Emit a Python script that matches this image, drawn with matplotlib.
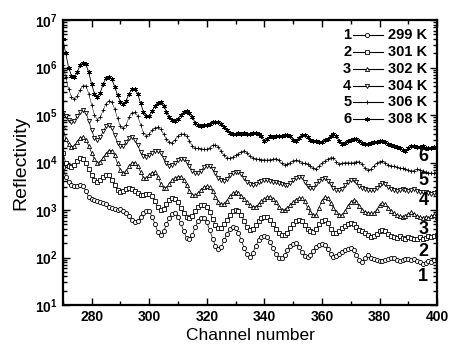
import numpy as np
import matplotlib
matplotlib.use("Agg")
from matplotlib import pyplot as plt
from matplotlib.ticker import LogLocator, MultipleLocator, NullFormatter

plt.rcParams['font.family'] = ['Liberation Sans', 'DejaVu Sans']

channels = np.arange(270, 401)
temps = ["299 K", "301 K", "302 K", "304 K", "306 K", "308 K"]

# log10(reflectivity), one value per channel 270..400
log_r1 = [3.90, 3.70, 3.58, 3.53, 3.50, 3.50, 3.52, 3.50, 3.40, 3.28,
          3.24, 3.22, 3.19, 3.17, 3.15, 3.12, 3.07, 3.04, 3.02, 3.01,
          3.02, 2.99, 2.94, 2.88, 2.80, 2.75, 2.76, 2.85, 2.94, 2.99,
          2.97, 2.86, 2.70, 2.54, 2.48, 2.55, 2.70, 2.83, 2.92, 2.93,
          2.86, 2.72, 2.55, 2.41, 2.38, 2.48, 2.64, 2.77, 2.84, 2.83,
          2.74, 2.58, 2.40, 2.24, 2.18, 2.22, 2.36, 2.50, 2.60, 2.65,
          2.63, 2.52, 2.36, 2.20, 2.07, 2.02, 2.10, 2.24, 2.36, 2.44,
          2.46, 2.43, 2.33, 2.20, 2.08, 2.00, 1.98, 2.05, 2.15, 2.24,
          2.29, 2.30, 2.22, 2.12, 2.04, 2.02, 2.06, 2.14, 2.22, 2.27,
          2.29, 2.27, 2.18, 2.08, 2.02, 2.03, 2.08, 2.12, 2.15, 2.18,
          2.19, 2.16, 2.06, 1.95, 1.90, 1.98, 2.05, 2.00, 1.96, 1.94,
          1.93, 1.92, 1.94, 1.97, 2.00, 1.99, 1.95, 1.93, 1.94, 1.97,
          1.96, 1.94, 1.97, 1.93, 1.90, 1.86, 1.88, 1.92, 1.90, 1.94,
          1.97]
log_r2 = [4.20, 4.00, 3.93, 3.91, 3.95, 4.04, 4.09, 4.07, 3.98, 3.86,
          3.74, 3.64, 3.60, 3.63, 3.70, 3.74, 3.73, 3.64, 3.52, 3.42,
          3.39, 3.41, 3.44, 3.46, 3.45, 3.40, 3.35, 3.32, 3.32, 3.33,
          3.33, 3.30, 3.18, 3.06, 3.00, 3.02, 3.12, 3.21, 3.25, 3.24,
          3.16, 3.04, 2.93, 2.86, 2.83, 2.88, 2.98, 3.06, 3.10, 3.11,
          3.06, 2.95, 2.81, 2.68, 2.62, 2.62, 2.70, 2.80, 2.90, 2.97,
          3.00, 2.99, 2.90, 2.77, 2.64, 2.58, 2.60, 2.68, 2.77, 2.83,
          2.86, 2.86, 2.80, 2.70, 2.60, 2.52, 2.48, 2.47, 2.52, 2.62,
          2.71, 2.77, 2.79, 2.77, 2.69, 2.60, 2.55, 2.54, 2.60, 2.70,
          2.77, 2.79, 2.72, 2.60, 2.52, 2.51, 2.56, 2.62, 2.67, 2.70,
          2.72, 2.71, 2.65, 2.58, 2.55, 2.52, 2.47, 2.44, 2.45, 2.50,
          2.56, 2.58, 2.55, 2.50, 2.46, 2.44, 2.42, 2.45, 2.42, 2.40,
          2.43, 2.41, 2.38, 2.40, 2.43, 2.40, 2.42, 2.45, 2.43, 2.46,
          2.48]
log_r3 = [4.75, 4.50, 4.38, 4.33, 4.35, 4.44, 4.52, 4.54, 4.48, 4.35,
          4.20, 4.07, 4.00, 4.02, 4.10, 4.19, 4.25, 4.25, 4.15, 3.98,
          3.84, 3.78, 3.82, 3.92, 3.99, 4.00, 3.93, 3.80, 3.68, 3.67,
          3.73, 3.79, 3.80, 3.70, 3.55, 3.46, 3.47, 3.55, 3.63, 3.68,
          3.70, 3.70, 3.64, 3.52, 3.40, 3.32, 3.31, 3.36, 3.43, 3.48,
          3.50, 3.48, 3.40, 3.28, 3.17, 3.12, 3.13, 3.20, 3.29, 3.35,
          3.38, 3.36, 3.30, 3.24, 3.16, 3.10, 3.07, 3.07, 3.12, 3.19,
          3.24, 3.27, 3.28, 3.24, 3.16, 3.07, 3.01, 3.00, 3.04, 3.11,
          3.17, 3.22, 3.25, 3.25, 3.18, 3.06, 2.95, 2.89, 2.90, 3.05,
          3.20, 3.28, 3.25, 3.15, 3.05, 2.96, 2.90, 2.89, 2.97, 3.08,
          3.17, 3.21, 3.17, 3.08, 3.00, 2.96, 2.94, 2.93, 2.93, 3.00,
          3.10, 3.14, 3.12, 3.05, 2.98, 2.93, 2.90, 2.87, 2.86, 2.88,
          2.92, 2.95, 2.92, 2.88, 2.85, 2.84, 2.86, 2.84, 2.87, 2.90,
          2.86]
log_r4 = [5.05, 4.98, 4.90, 4.86, 4.88, 4.97, 5.07, 5.11, 5.05, 4.88,
          4.68, 4.52, 4.47, 4.53, 4.66, 4.76, 4.79, 4.72, 4.58, 4.42,
          4.34, 4.35, 4.44, 4.52, 4.54, 4.48, 4.36, 4.23, 4.14, 4.12,
          4.15, 4.20, 4.24, 4.25, 4.20, 4.10, 3.99, 3.93, 3.94, 3.99,
          4.05, 4.08, 4.08, 4.02, 3.92, 3.83, 3.78, 3.78, 3.83, 3.90,
          3.93, 3.93, 3.87, 3.78, 3.68, 3.63, 3.62, 3.66, 3.73, 3.78,
          3.80, 3.80, 3.76, 3.68, 3.60, 3.55, 3.53, 3.54, 3.58, 3.62,
          3.63, 3.63, 3.62, 3.60, 3.58, 3.56, 3.54, 3.53, 3.53, 3.57,
          3.63, 3.68, 3.70, 3.69, 3.60, 3.50, 3.46, 3.47, 3.54, 3.62,
          3.66, 3.67, 3.62, 3.54, 3.47, 3.43, 3.42, 3.45, 3.52, 3.59,
          3.63, 3.63, 3.58, 3.50, 3.46, 3.44, 3.43, 3.42, 3.42, 3.47,
          3.53, 3.56, 3.54, 3.48, 3.44, 3.42, 3.41, 3.42, 3.44, 3.42,
          3.40, 3.42, 3.44, 3.41, 3.38, 3.37, 3.39, 3.36, 3.33, 3.35,
          3.37]
log_r5 = [6.05, 5.80, 5.55, 5.38, 5.33, 5.40, 5.53, 5.62, 5.62, 5.45,
          5.22, 5.00, 4.90, 4.95, 5.10, 5.24, 5.30, 5.27, 5.13, 4.93,
          4.76, 4.72, 4.80, 4.95, 5.05, 5.06, 4.98, 4.80, 4.63, 4.56,
          4.60, 4.68, 4.73, 4.74, 4.70, 4.60, 4.49, 4.43, 4.42, 4.48,
          4.56, 4.60, 4.60, 4.55, 4.45, 4.35, 4.30, 4.30, 4.29, 4.28,
          4.28, 4.31, 4.36, 4.37, 4.33, 4.24, 4.15, 4.10, 4.09, 4.11,
          4.15, 4.19, 4.23, 4.25, 4.20, 4.13, 4.10, 4.08, 4.07, 4.06,
          4.06, 4.05, 4.06, 4.07, 4.08, 4.05, 3.98, 3.95, 3.96, 4.00,
          4.04, 4.05, 4.03, 4.00, 3.98, 3.96, 3.92, 3.88, 3.87, 3.92,
          3.98, 4.03, 4.07, 4.10, 4.10, 4.02, 3.97, 3.98, 4.00, 4.00,
          3.99, 4.00, 4.02, 4.02, 3.96, 3.88, 3.84, 3.86, 3.92, 3.98,
          4.02, 4.03, 3.99, 3.95, 3.93, 3.92, 3.90, 3.88, 3.88, 3.86,
          3.84, 3.82, 3.83, 3.86, 3.85, 3.83, 3.80, 3.78, 3.78, 3.77,
          3.80]
log_r6 = [6.60, 6.30, 6.00, 5.83, 5.80, 5.90, 6.05, 6.10, 6.07, 5.90,
          5.65, 5.45, 5.39, 5.47, 5.65, 5.78, 5.81, 5.76, 5.60, 5.42,
          5.28, 5.23, 5.30, 5.45, 5.54, 5.55, 5.45, 5.25, 5.07, 4.97,
          4.98, 5.08, 5.20, 5.26, 5.27, 5.20, 5.07, 4.95, 4.89, 4.88,
          4.92, 5.00, 5.06, 5.08, 5.05, 4.95, 4.84, 4.78, 4.77, 4.79,
          4.80, 4.82, 4.85, 4.86, 4.86, 4.82, 4.75, 4.68, 4.63, 4.60,
          4.60, 4.62, 4.61, 4.63, 4.61, 4.60, 4.62, 4.63, 4.61, 4.55,
          4.45, 4.50, 4.55, 4.54, 4.56, 4.55, 4.56, 4.58, 4.58, 4.56,
          4.48, 4.45, 4.52, 4.58, 4.57, 4.53, 4.48, 4.46, 4.45, 4.44,
          4.44, 4.47, 4.50, 4.56, 4.60, 4.55, 4.46, 4.40, 4.42, 4.45,
          4.47, 4.50, 4.50, 4.46, 4.42, 4.38, 4.40, 4.42, 4.43, 4.44,
          4.45, 4.45, 4.43, 4.40, 4.37, 4.35, 4.33, 4.30, 4.26, 4.25,
          4.30, 4.35, 4.34, 4.32, 4.33, 4.34, 4.31, 4.30, 4.30, 4.33,
          4.30]

series = [log_r1, log_r2, log_r3, log_r4, log_r5, log_r6]
markers = ['o', 's', '^', 'v', '+', (6, 2, 0)]
sizes = [3.0, 2.8, 3.0, 3.0, 2.8, 3.4]
widths = [0.5, 0.5, 0.5, 0.5, 0.35, 0.6]

fig = plt.figure(figsize=(4.52, 3.52), dpi=100)
ax = fig.add_axes([0.139, 0.1335, 0.828, 0.8095])

for logs, mk, ms, lw in zip(series, markers, sizes, widths):
    ax.plot(channels, 10 ** np.array(logs), color='black', lw=lw,
            marker=mk, ms=ms, mfc='white' if mk in ('o', 's', '^', 'v') else 'black',
            mec='black', mew=0.6)

ax.set_yscale('log')
ax.set_xlim(270, 400)
ax.set_ylim(1e1, 1e7)
ax.xaxis.set_minor_locator(MultipleLocator(10))
ax.yaxis.set_major_locator(LogLocator(base=10, numticks=10))
ax.yaxis.set_minor_locator(LogLocator(base=10, subs=np.arange(2, 10), numticks=20))
ax.yaxis.set_minor_formatter(NullFormatter())
ax.set_xticks([280, 300, 320, 340, 360, 380, 400])
ax.tick_params(which='both', direction='in', top=True, right=True, width=1.0)
ax.tick_params(which='major', length=5, labelsize=10)
ax.tick_params(which='minor', length=3)
for lab in ax.get_xticklabels() + ax.get_yticklabels():
    lab.set_fontweight('bold')
for s in ax.spines.values():
    s.set_linewidth(1.6)

ax.set_xlabel("Channel number", fontsize=12.5, labelpad=3)
ax.set_ylabel("Reflectivity", fontsize=14, labelpad=4)

# curve numbers at the right end
num_y = [10 ** 1.59, 10 ** 2.12, 10 ** 2.58, 10 ** 3.21, 10 ** 3.63, 10 ** 4.12]
for i, yv in enumerate(num_y):
    ax.text(395.2, yv, str(i + 1), fontsize=13, fontweight='bold',
            ha='center', va='center')

# legend drawn by hand: "n —marker— T"
rows = [0.947, 0.888, 0.828, 0.768, 0.712, 0.653]
for i, (yy, mk, ms, t) in enumerate(zip(rows, markers, sizes, temps)):
    ax.text(0.760, yy, str(i + 1), transform=ax.transAxes, fontsize=10.5,
            fontweight='bold', ha='center', va='center')
    ax.plot([0.775, 0.855], [yy, yy], transform=ax.transAxes, color='black', lw=0.8)
    ax.plot([0.813], [yy], transform=ax.transAxes, color='black', marker=mk, ms=ms,
            mfc='white' if mk in ('o', 's', '^', 'v') else 'black', mec='black', mew=0.6)
    ax.text(0.868, yy, t, transform=ax.transAxes, fontsize=10.5, fontweight='bold',
            ha='left', va='center')

fig.savefig("out.png", dpi=100)
